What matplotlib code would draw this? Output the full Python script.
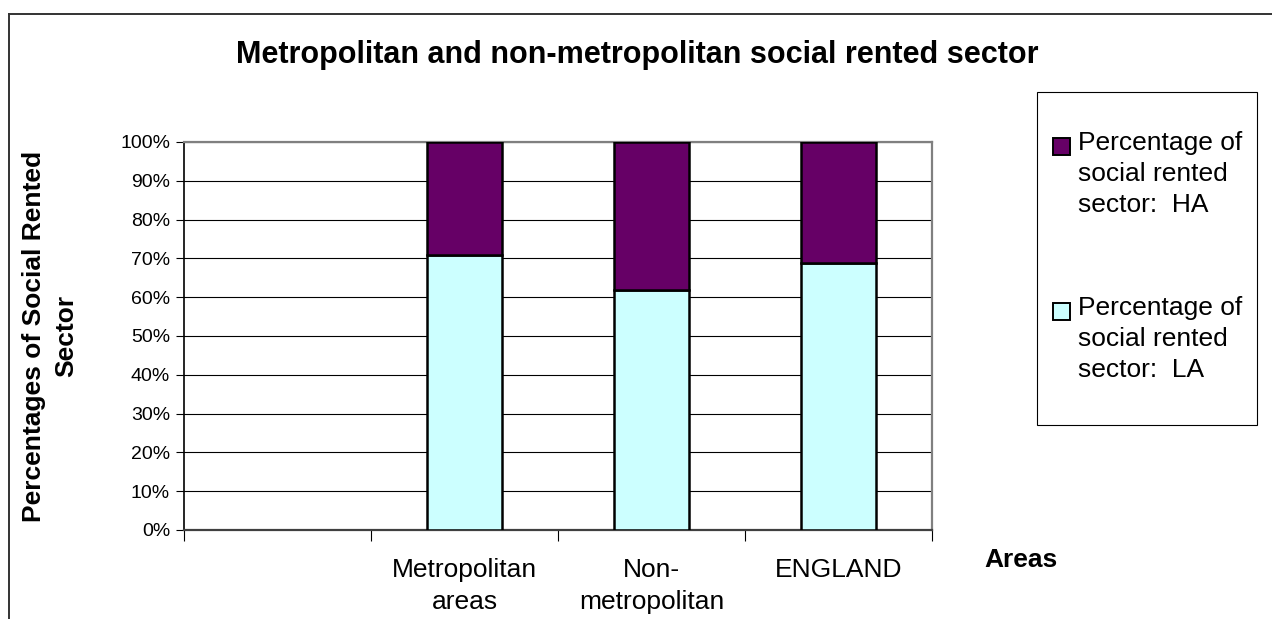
import numpy as np
import matplotlib
matplotlib.use("Agg")
import matplotlib.pyplot as plt
import matplotlib.ticker as mticker
from matplotlib.patches import Rectangle
from matplotlib.lines import Line2D

# ---------------------------------------------------------------------------
# Data; first category slot is blank
# ---------------------------------------------------------------------------
categories = ["", "Metropolitan\nareas", "Non-\nmetropolitan", "ENGLAND"]
la_share = [np.nan, 70.8, 61.9, 68.7]   # % of social rented sector: LA
ha_share = [np.nan, 29.2, 38.1, 31.3]   # % of social rented sector: HA
y_ticks = [0, 10, 20, 30, 40, 50, 60, 70, 80, 90, 100]

LA_COLOR = "#CCFFFF"
HA_COLOR = "#660066"

plt.rcParams["font.family"] = ["Liberation Sans", "DejaVu Sans"]

W, H = 1272, 619
fig = plt.figure(figsize=(W / 100, H / 100), dpi=100)

# plot area in pixels: x 184..932, y 142..530
ax = fig.add_axes([184 / W, 1 - 530 / H, (932 - 184) / W, (530 - 142) / H])

x = np.arange(len(categories)) + 0.5
for yv in y_ticks[1:]:
    ax.axhline(yv, color="black", linewidth=0.8, zorder=1)

ax.bar(x, la_share, width=0.4, color=LA_COLOR, edgecolor="black",
       linewidth=1.8, zorder=3)
ax.bar(x, ha_share, width=0.4, bottom=la_share, color=HA_COLOR,
       edgecolor="black", linewidth=1.8, zorder=3)

ax.set_xlim(0, len(categories))
ax.set_ylim(0, 100)
ax.set_yticks(y_ticks)
ax.yaxis.set_major_formatter(mticker.FuncFormatter(lambda v, _: f"{v:.0f}%"))
ax.set_xticks(np.arange(len(categories) + 1))
ax.set_xticklabels([])
ax.set_xticks(x, minor=True)
ax.set_xticklabels(categories, minor=True, fontsize=19, linespacing=1.45)
ax.tick_params(axis="x", which="minor", length=0, pad=20)
ax.tick_params(axis="x", which="major", length=8, width=0.8, direction="out")
ax.tick_params(axis="y", length=6, width=0.8, direction="out", labelsize=14, pad=4)

for side in ["top", "right"]:
    ax.spines[side].set_color("#808080")
    ax.spines[side].set_linewidth(1.6)
ax.spines["left"].set_linewidth(1.2)
ax.spines["bottom"].set_linewidth(1.6)
ax.spines["bottom"].set_color("#404040")

# titles
fig.text(637 / W, 1 - 55 / H, "Metropolitan and non-metropolitan social rented sector",
         ha="center", va="center", fontsize=22, fontweight="bold")
fig.text(50 / W, 1 - 336 / H, "Percentages of Social Rented\nSector",
         ha="center", va="center", rotation=90, fontsize=19, fontweight="bold",
         linespacing=1.4)
fig.text(1021 / W, 1 - 560 / H, "Areas", ha="center", va="center",
         fontsize=19, fontweight="bold")

# legend drawn by hand to match the boxed Excel-style legend
fig.add_artist(Rectangle((1037 / W, 1 - 425 / H), 220 / W, 333 / H,
                         transform=fig.transFigure, facecolor="white",
                         edgecolor="black", linewidth=0.8))
legend_items = [
    (HA_COLOR, "Percentage of\nsocial rented\nsector:  HA", 146),
    (LA_COLOR, "Percentage of\nsocial rented\nsector:  LA", 311),
]
for color, label, yc in legend_items:
    fig.add_artist(Rectangle((1053 / W, 1 - (yc + 8.5) / H), 17 / W, 17 / H,
                             transform=fig.transFigure, facecolor=color,
                             edgecolor="black", linewidth=1.4))
    fig.text(1078 / W, 1 - (yc - 15) / H, label, ha="left", va="top",
             fontsize=19, linespacing=1.36)

# outer chart border (top and left visible)
fig.add_artist(Line2D([8.5 / W, 1], [1 - 14 / H, 1 - 14 / H],
                      transform=fig.transFigure, color="#333333", linewidth=1.4))
fig.add_artist(Line2D([8.5 / W, 8.5 / W], [0, 1 - 14 / H],
                      transform=fig.transFigure, color="#333333", linewidth=1.4))

fig.savefig("out.png", dpi=100)
